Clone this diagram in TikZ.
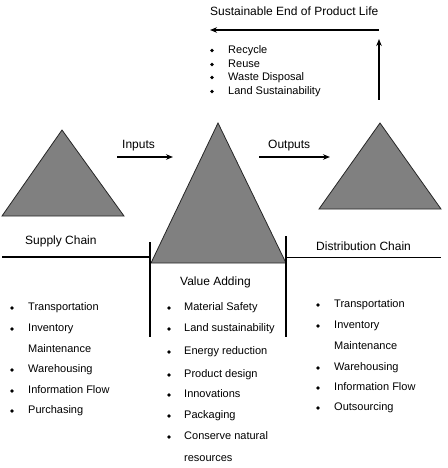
\documentclass[tikz,border=0pt]{standalone}
\usepackage{fontspec}
\setmainfont{Liberation Sans}
\usetikzlibrary{arrows.meta}
\begin{document}
\begin{tikzpicture}[x=1pt,y=-1pt,
  tri/.style={fill=black!50, draw=black!85, line width=0.8pt, line join=miter},
  arr/.style={line width=1.7pt, -{Stealth[length=7pt,width=5.5pt]}},
  head/.style={font=\fontsize{12}{14}\selectfont, anchor=base west, inner sep=0pt},
  item/.style={font=\fontsize{11}{13}\selectfont, anchor=base west, inner sep=0pt},
  dot/.style={circle, fill=black, inner sep=0pt, minimum size=3.8pt}]
\useasboundingbox (0,0) rectangle (447,468);
% triangles
\draw[tri] (2,216) -- (62,130) -- (124,216) -- cycle;
\draw[tri] (151,263) -- (218,123) -- (286,263) -- cycle;
\draw[tri] (319,209) -- (380,123) -- (441,209) -- cycle;
% arrow coordinates
\coordinate (inA) at (117,157); \coordinate (inB) at (173,157);
\coordinate (outA) at (259,157); \coordinate (outB) at (330,157);
\coordinate (upA) at (379,100); \coordinate (upB) at (379,39);
\coordinate (topA) at (379,30); \coordinate (topB) at (210,30);
\draw[arr] (inA) -- (inB);
\draw[arr] (outA) -- (outB);
\draw[arr] (upA) -- (upB);
\draw[arr] (topA) -- (topB);
% chain lines
\coordinate (l1) at (2,257); \coordinate (l2) at (150,257);
\coordinate (v1a) at (150,242); \coordinate (v1b) at (150,337);
\coordinate (v2a) at (286,236); \coordinate (v2b) at (286,337);
\coordinate (r1) at (287,257); \coordinate (r2) at (441,257);
\draw[line width=1.4pt] (l1) -- (l2);
\draw[line width=1.6pt] (v1a) -- (v1b);
\draw[line width=1.6pt] (v2a) -- (v2b);
\draw[line width=0.9pt] (r1) -- (r2);
% headings
\node[head] (title) at (210,15.5) {Sustainable End of Product Life};
\node[head] (inputs) at (122,148) {Inputs};
\node[head] (outputs) at (268,148) {Outputs};
\node[head] (supply) at (25,244) {Supply Chain};
\node[head] (distr) at (316,250) {Distribution Chain};
\node[head] (value) at (180,285.5) {Value Adding};
% top list
\foreach \y/\t [count=\i] in {50/Recycle,64/Reuse,77/Waste Disposal,91/Land Sustainability}{
  \node[dot] (td\i) at (212,\y+0.5) {};
  \node[item] (tt\i) at (228,\y+3.8) {\t};
}
% left list
\foreach \y/\t [count=\i] in {307/Transportation,328/Inventory,369/Warehousing,390/Information Flow,410/Purchasing}{
  \node[dot] (ld\i) at (12,\y+1) {};
  \node[item] (lt\i) at (28,\y+3.5) {\t};
}
\node[item] (ltm) at (28,349+3.5) {Maintenance};
% middle list
\foreach \y/\t [count=\i] in {307/Material Safety,328/Land sustainability,351/Energy reduction,374/Product design,394/Innovations,415/Packaging,436/Conserve natural}{
  \node[dot] (md\i) at (169,\y+1) {};
  \node[item] (mt\i) at (184,\y+3.5) {\t};
}
\node[item] (mtr) at (184,458+3.5) {resources};
% right list
\foreach \y/\t [count=\i] in {304/Transportation,325/Inventory,367/Warehousing,387/Information Flow,407/Outsourcing}{
  \node[dot] (rd\i) at (318,\y+1) {};
  \node[item] (rt\i) at (334,\y+3.5) {\t};
}
\node[item] (rtm) at (334,346+3.5) {Maintenance};
\end{tikzpicture}
\end{document}
